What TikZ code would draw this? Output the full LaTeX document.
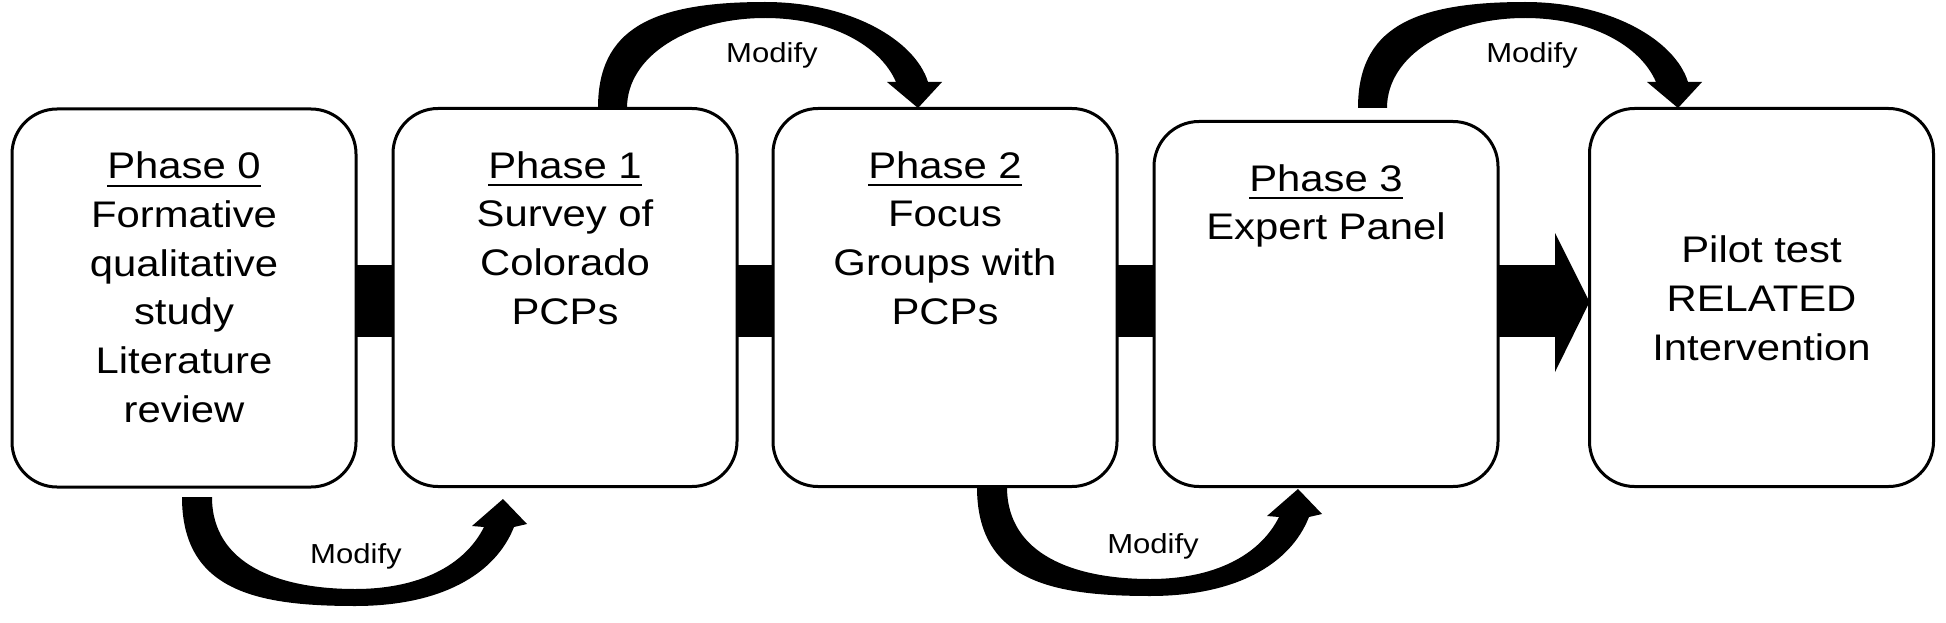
\documentclass[tikz,border=0pt]{standalone}
\usepackage{fontspec}
\setmainfont{Liberation Sans}[FakeStretch=1.13]
\usetikzlibrary{calc}
\newsavebox\phbox
\newcommand{\phul}[1]{\sbox\phbox{#1}\leavevmode\rlap{\rule[-8pt]{\wd\phbox}{1.8pt}}\usebox\phbox}
\begin{document}
\begin{tikzpicture}[x=1pt,y=-1pt,
  phasebox/.style={draw=black, line width=3pt, fill=white, rounded corners=45pt,
    minimum width=344pt, minimum height=378pt, inner sep=0pt, outer sep=0pt},
  boxtext/.style={font=\fontsize{37}{48.8}\selectfont, align=center, inner sep=0pt},
  modlabel/.style={font=\fontsize{27.5}{33}\selectfont, inner sep=0pt, anchor=base},
  barfill/.style={fill=black},
  uparc/.pic={
    \fill[black] (598,108) .. controls (598,30) and (650,2) .. (765,2)
      .. controls (850,2) and (915,40) .. (928,82)
      -- (942,82) -- (918,108) -- (887,82) -- (896,82)
      .. controls (880,45) and (830,18) .. (765,18)
      .. controls (690,18) and (627,55) .. (627,108) -- cycle;
  },
  downarc/.pic={
    \fill[black] (182,497) .. controls (182,590) and (255,606) .. (355,606)
      .. controls (440,606) and (495,575) .. (514,527)
      -- (527,524) -- (503,499) -- (472,526) -- (484,527)
      .. controls (465,565) and (420,589) .. (355,589)
      .. controls (280,589) and (212,565) .. (212,497) -- cycle;
  }]
\fill[white] (0,0) rectangle (1946,623);
\useasboundingbox (0,0) rectangle (1946,623);

% boxes
\node[phasebox] (b0) at (184,298) {};
\node[phasebox] (b1) at (565,297.5) {};
\node[phasebox] (b2) at (945,297.5) {};
\node[phasebox, minimum height=365pt] (b3) at (1326,304) {};
\node[phasebox] (b4) at (1761.5,297.5) {};

% texts
\node[boxtext, anchor=north, yshift=-42.5pt] (t0) at (b0.north)
  {\phul{Phase 0}\\Formative\\qualitative\\study\\Literature\\review};
\node[boxtext, anchor=north, yshift=-42.5pt] (t1) at (b1.north)
  {\phul{Phase 1}\\Survey of\\Colorado\\PCPs};
\node[boxtext, anchor=north, yshift=-42.5pt] (t2) at (b2.north)
  {\phul{Phase 2}\\Focus\\Groups with\\PCPs};
\node[boxtext, anchor=north, yshift=-42.5pt] (t3) at (b3.north)
  {\phul{Phase 3}\\Expert Panel};
\node[boxtext, anchor=center, yshift=-1pt] (t4) at (b4.center)
  {Pilot test\\RELATED\\Intervention};

% straight connectors
\coordinate (yt) at (0,265);
\coordinate (yb) at (0,337);
\coordinate (ym) at (0,302);
\coordinate (hb) at (1555,301);
\coordinate (hu) at (1555,233);
\coordinate (hd) at (1555,372);
\fill[barfill] (b0.east |- yt) rectangle (b1.west |- yb);
\fill[barfill] (b1.east |- yt) rectangle (b2.west |- yb);
\fill[barfill] (b2.east |- yt) rectangle (b3.west |- yb);
\fill[barfill] (b3.east |- yt) rectangle (hb |- yb);
\fill[barfill] (hu) -- (b4.west |- ym) -- (hd) -- cycle;

% curved "Modify" arrows
\pic at (0,0) {uparc};
\pic at (760,0) {uparc};
\pic at (0,0) {downarc};
\pic at (795,-10) {downarc};

\node[modlabel] (m1) at (772,63) {Modify};
\node[modlabel] (m2) at (1532,63) {Modify};
\node[modlabel] (m3) at (356,563) {Modify};
\node[modlabel] (m4) at (1153,553) {Modify};
\end{tikzpicture}
\end{document}
